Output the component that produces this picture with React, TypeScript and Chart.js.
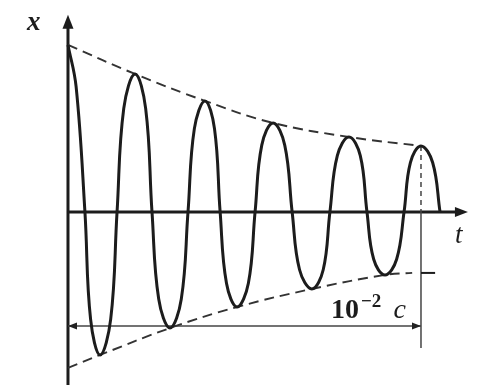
import React, { useEffect, useRef } from 'react';
import { Chart, registerables } from 'chart.js';

Chart.register(...registerables);

// Damped oscillation: time in ms, displacement in relative units
// (peaks/troughs, zero crossings and flank points at about three quarters of each swing)
const curveTime = [
  0, 0.23, 0.48,
  0.64, 0.91, 1.21, 1.39,
  1.58, 1.90, 2.20, 2.38,
  2.57, 2.89, 3.21, 3.40,
  3.58, 3.88, 4.15, 4.31,
  4.49, 4.79, 5.11, 5.30,
  5.49, 5.81, 6.14, 6.35,
  6.56, 6.91, 7.23, 7.42,
  7.63, 7.96, 8.28, 8.47,
  8.66, 8.98, 9.31, 9.52,
  9.70, 10.0, 10.33, 10.54,
];
const curveDisp = [
  100, 75, 0,
  -64.2, -85.6, -64.2, 0,
  62, 82.6, 62, 0,
  -52.1, -69.5, -52.1, 0,
  49.9, 66.5, 49.9, 0,
  -42.7, -56.9, -42.7, 0,
  40, 53.3, 40, 0,
  -34.6, -46.1, -34.6, 0,
  33.7, 44.9, 33.7, 0,
  -28.3, -37.7, -28.3, 0,
  29.6, 39.5, 29.6, 0,
];

// Envelopes (dashed)
const upperTime = [0, 1.90, 3.88, 5.81, 7.96, 10.0];
const upperEnv = [100, 82.6, 66.5, 53.3, 44.9, 39.5];
const lowerTime = [0, 0.91, 2.89, 4.79, 6.91, 8.98, 9.75];
const lowerEnv = [-93.4, -85.6, -69.5, -56.9, -46.1, -37.7, -36.5];

// Dimension "10^-2 c" (10 ms)
const dimStart = 0;
const dimEnd = 10;
const dimLevel = -68.3;
const markerTop = 39.5;
const markerBottom = -81.4;
const tickLevel = -36.5;
const tickEnd = 10.4;

// Axis extents
const xAxisEnd = 11.33;
const yAxisTop = 118;
const yAxisBottom = -110;

// Labels
const yLabel = 'x';
const xLabel = 't';
const dimBase = '10';
const dimExp = '\u22122';
const dimUnit = '\u0441';

const INK = '#1c1c1c';
const SERIF = "'Liberation Serif', 'DejaVu Serif', serif";

const overlay = {
  id: 'overlay',
  beforeDatasetsDraw(chart: any) {
    const ctx = chart.ctx;
    const xs = chart.scales.x;
    const ys = chart.scales.y;
    const px = (t: number) => xs.getPixelForValue(t);
    const py = (v: number) => ys.getPixelForValue(v);
    ctx.save();
    ctx.strokeStyle = INK;
    ctx.fillStyle = INK;
    ctx.lineCap = 'butt';
    // y axis
    ctx.lineWidth = 3;
    ctx.beginPath();
    ctx.moveTo(px(0), py(yAxisBottom));
    ctx.lineTo(px(0), py(yAxisTop) + 10);
    ctx.stroke();
    ctx.beginPath();
    ctx.moveTo(px(0), py(yAxisTop));
    ctx.lineTo(px(0) - 5.5, py(yAxisTop) + 14);
    ctx.lineTo(px(0) + 5.5, py(yAxisTop) + 14);
    ctx.closePath();
    ctx.fill();
    // x axis
    ctx.beginPath();
    ctx.moveTo(px(0) - 1, py(0));
    ctx.lineTo(px(xAxisEnd) - 10, py(0));
    ctx.stroke();
    ctx.beginPath();
    ctx.moveTo(px(xAxisEnd), py(0));
    ctx.lineTo(px(xAxisEnd) - 13, py(0) - 5);
    ctx.lineTo(px(xAxisEnd) - 13, py(0) + 5);
    ctx.closePath();
    ctx.fill();

    // dimension line
    ctx.strokeStyle = '#444';
    ctx.fillStyle = '#222';
    ctx.lineWidth = 1.5;
    ctx.beginPath();
    ctx.moveTo(px(dimStart), py(dimLevel));
    ctx.lineTo(px(dimEnd), py(dimLevel));
    ctx.stroke();
    const yl = py(dimLevel);
    ctx.beginPath();
    ctx.moveTo(px(dimStart), yl);
    ctx.lineTo(px(dimStart) + 9, yl - 3.5);
    ctx.lineTo(px(dimStart) + 9, yl + 3.5);
    ctx.closePath();
    ctx.fill();
    ctx.beginPath();
    ctx.moveTo(px(dimEnd), yl);
    ctx.lineTo(px(dimEnd) - 9, yl - 3.5);
    ctx.lineTo(px(dimEnd) - 9, yl + 3.5);
    ctx.closePath();
    ctx.fill();
    // vertical marker
    ctx.beginPath();
    ctx.moveTo(px(dimEnd), py(0));
    ctx.lineTo(px(dimEnd), py(markerBottom));
    ctx.stroke();
    ctx.setLineDash([5, 4]);
    ctx.beginPath();
    ctx.moveTo(px(dimEnd), py(markerTop));
    ctx.lineTo(px(dimEnd), py(0));
    ctx.stroke();
    ctx.setLineDash([]);
    // small tick
    ctx.lineWidth = 2;
    ctx.strokeStyle = INK;
    ctx.beginPath();
    ctx.moveTo(px(dimEnd), py(tickLevel));
    ctx.lineTo(px(tickEnd), py(tickLevel));
    ctx.stroke();

    // labels
    ctx.fillStyle = INK;
    ctx.textBaseline = 'alphabetic';
    ctx.textAlign = 'left';
    ctx.font = `italic bold 27px ${SERIF}`;
    ctx.fillText(yLabel, px(-1.16), py(109));
    ctx.font = `italic 27px ${SERIF}`;
    ctx.fillText(xLabel, px(10.96), py(-18.6));
    ctx.font = `bold 28px ${SERIF}`;
    ctx.fillText(dimBase, px(7.45), py(-63.5));
    ctx.font = `bold 19px ${SERIF}`;
    ctx.fillText(dimExp, px(8.3), py(-56.9));
    ctx.font = `italic 28px ${SERIF}`;
    ctx.fillText(dimUnit, px(9.22), py(-63.5));
    ctx.restore();
  },
};

export default function App() {
  const ref = useRef<HTMLCanvasElement>(null);
  useEffect(() => {
    if (!ref.current) return;
    const toPts = (xs: number[], ys: number[]) => xs.map((x, i) => ({ x, y: ys[i] }));
    const chart = new Chart(ref.current, {
      type: 'scatter',
      data: {
        datasets: [
          {
            data: toPts(curveTime, curveDisp),
            showLine: true,
            borderColor: INK,
            borderWidth: 3,
            pointRadius: 0,
            tension: 0.4,
          },
          {
            data: toPts(upperTime, upperEnv),
            showLine: true,
            borderColor: '#333',
            borderWidth: 1.9,
            borderDash: [10, 6],
            pointRadius: 0,
            tension: 0.4,
          },
          {
            data: toPts(lowerTime, lowerEnv),
            showLine: true,
            borderColor: '#333',
            borderWidth: 1.9,
            borderDash: [10, 6],
            pointRadius: 0,
            tension: 0.4,
          },
        ],
      },
      options: {
        animation: false,
        responsive: false,
        layout: { padding: 0 },
        plugins: { legend: { display: false }, tooltip: { enabled: false } },
        events: [],
        scales: {
          x: { type: 'linear', display: false, min: -1.926, max: 11.70 },
          y: { type: 'linear', display: false, min: -103.6, max: 126.9 },
        },
      },
      plugins: [overlay],
    } as any);
    return () => chart.destroy();
  }, []);
  return (
    <div style={{ position: 'fixed', left: 0, top: 0, width: 481, height: 385, background: '#fff' }}>
      <canvas ref={ref} width={481} height={385} style={{ display: 'block' }} />
    </div>
  );
}
